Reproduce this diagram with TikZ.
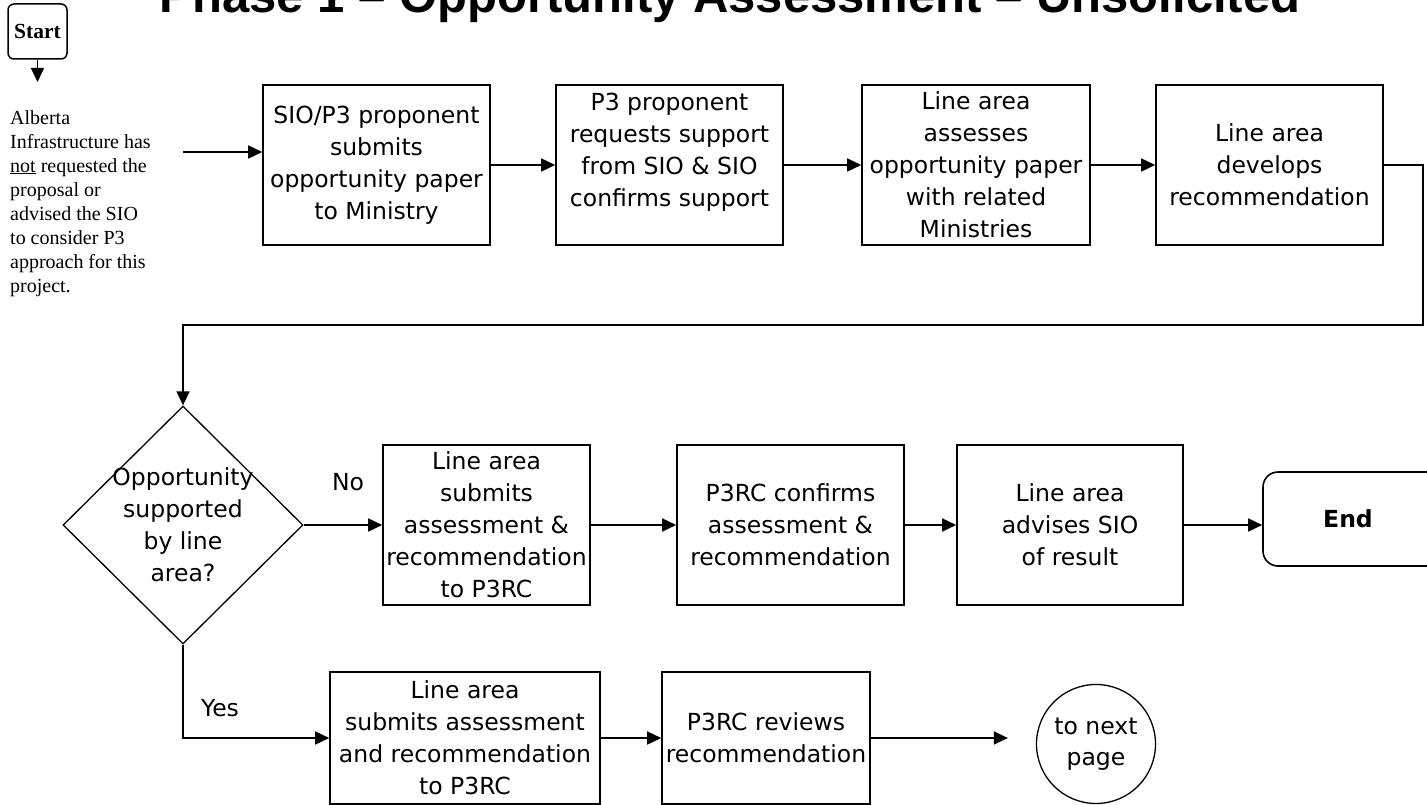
\documentclass[tikz,border=0pt]{standalone}
\usepackage{fontspec}
\setmainfont{DejaVu Sans}
\newfontfamily\serifnote{Liberation Serif}
\newfontfamily\arialtitle{Liberation Sans}
\usetikzlibrary{arrows.meta,shapes.geometric}
\begin{document}
\begin{tikzpicture}[x=1pt,y=-1pt,
  box/.style={draw, line width=1.6pt, rectangle, minimum height=160pt, inner sep=0pt, align=center, font=\fontsize{23.5}{32}\selectfont},
  lbl/.style={font=\fontsize{23.5}{32}\selectfont, inner sep=0pt, align=center},
  arr/.style={line width=1.6pt, -{Triangle[length=14pt,width=13pt]}},
  thinline/.style={line width=1.3pt}]
\useasboundingbox (0,0) rectangle (1427,805);

% title (top cut off as in the reference)
\node[font=\arialtitle\bfseries\fontsize{49}{55}\selectfont, anchor=base, inner sep=0pt] (title) at (730,13) {Phase 1 – Opportunity Assessment – Unsolicited};

% start
\node[draw, line width=1.5pt, rounded corners=6pt, minimum width=59pt, minimum height=55pt, inner sep=0pt, font=\serifnote\bfseries\fontsize{21.5}{24}\selectfont] (start) at (37.5,31.5) {Start};
\coordinate (stip) at (37.5,82);

\node[anchor=north west, inner sep=0pt, align=left, font=\serifnote\fontsize{20}{24}\selectfont] (note) at (10,110) {Alberta\\Infrastructure has\\\underline{not} requested the\\proposal or\\advised the SIO\\to consider P3\\approach for this\\project.};
\coordinate (nin) at (183,152);

% row 1
\node[box, minimum width=227pt] (b1) at (376.5,165) {SIO/P3 proponent\\submits\\opportunity paper\\to Ministry};
\node[box, minimum width=227pt] (b2) at (669.5,165) {};
\node[lbl, anchor=north] (t2) at (669.5,93) {P3 proponent\\requests support\\from SIO \& SIO\\confirms support};
\node[box, minimum width=228pt] (b3) at (976,165) {Line area\\assesses\\opportunity paper\\with related\\Ministries};
\node[box, minimum width=227pt] (b4) at (1269.5,165) {Line area\\develops\\recommendation};
\coordinate (c1) at (1423,325);

% decision
\node[draw, diamond, thinline, minimum width=240pt, minimum height=238pt, inner sep=0pt] (dia) at (183,525) {};
\node[lbl] (dt) at (183,525) {Opportunity\\supported\\by line\\area?};
\node[lbl] (no) at (348,482) {No};
\node[lbl] (yes) at (220,708) {Yes};

% row 2
\node[box, minimum width=207pt] (bA) at (486.5,525) {Line area\\submits\\assessment \&\\recommendation\\to P3RC};
\node[box, minimum width=227pt] (bB) at (790.5,525) {P3RC confirms\\assessment \&\\recommendation};
\node[box, minimum width=226pt] (bC) at (1070,525) {Line area\\advises SIO\\of result};
\node[draw, line width=1.6pt, rounded corners=15pt, minimum width=180pt, minimum height=94pt, inner sep=0pt, font=\bfseries\fontsize{23.5}{28}\selectfont] (end) at (1353,519) {\hspace*{-10pt}End};

% row 3
\node[box, minimum width=270pt, minimum height=132pt] (bD) at (465,738) {Line area\\submits assessment\\and recommendation\\to P3RC};
\node[box, minimum width=208pt, minimum height=132pt] (bE) at (766,738) {P3RC reviews\\recommendation};
\node[draw, circle, thinline, minimum size=119pt, inner sep=0pt, align=center, font=\fontsize{23.5}{31}\selectfont] (circ) at (1096,744) {to next\\page};

% connectors
\draw[arr] (start.south) -- (stip);
\draw[arr] (nin) -- (nin -| b1.west);
\draw[arr] (b1.east) -- (b2.west);
\draw[arr] (b2.east) -- (b3.west);
\draw[arr] (b3.east) -- (b4.west);
\draw[arr] (b4.east) -| (c1) -| (dia.north);
\draw[arr] (dia.east) -- (bA.west);
\draw[arr] (bA.east) -- (bB.west);
\draw[arr] (bB.east) -- (bC.west);
\draw[arr] (bC.east) -- (bC.east -| end.west);
\draw[arr] (dia.south) |- (bD.west);
\draw[arr] (bD.east) -- (bE.west);
\draw[arr] (bE.east) -- ([xshift=-28pt]bE.east -| circ.west);
\end{tikzpicture}
\end{document}
